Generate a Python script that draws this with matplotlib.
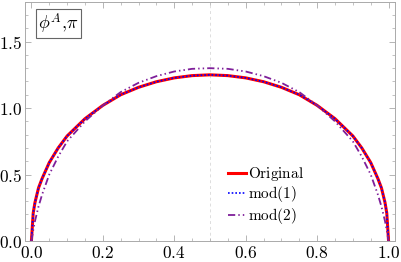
import matplotlib
matplotlib.use("Agg")
import matplotlib.pyplot as plt
from matplotlib.ticker import MultipleLocator

plt.rcParams['mathtext.fontset'] = 'cm'

# Momentum fraction grid and curve values
x = [0.0, 0.005, 0.01, 0.02, 0.03, 0.05, 0.075, 0.1, 0.15, 0.2, 0.25, 0.3,
     0.35, 0.4, 0.45, 0.5, 0.55, 0.6, 0.65, 0.7, 0.75, 0.8, 0.85, 0.9,
     0.925, 0.95, 0.97, 0.98, 0.99, 0.995, 1.0]
original = [0.0, 0.21, 0.29, 0.40, 0.47, 0.59, 0.70, 0.79, 0.92, 1.02, 1.10, 1.156,
            1.198, 1.227, 1.244, 1.25, 1.244, 1.227, 1.198, 1.156, 1.10, 1.02, 0.92, 0.79,
            0.70, 0.59, 0.47, 0.40, 0.29, 0.21, 0.0]
mod1 = [0.0, 0.21, 0.29, 0.40, 0.47, 0.59, 0.70, 0.79, 0.92, 1.02, 1.10, 1.156,
        1.198, 1.227, 1.244, 1.25, 1.244, 1.227, 1.198, 1.156, 1.10, 1.02, 0.92, 0.79,
        0.70, 0.59, 0.47, 0.40, 0.29, 0.21, 0.0]
mod2 = [0.0, 0.08, 0.15, 0.26, 0.35, 0.50, 0.635, 0.75, 0.90, 1.02, 1.12, 1.19,
        1.24, 1.275, 1.295, 1.30, 1.295, 1.275, 1.24, 1.19, 1.12, 1.02, 0.90, 0.75,
        0.635, 0.50, 0.35, 0.26, 0.15, 0.08, 0.0]

xticks = [0.0, 0.2, 0.4, 0.6, 0.8, 1.0]
yticks = [0.0, 0.5, 1.0, 1.5]

fig = plt.figure(figsize=(4.01, 2.62), dpi=100)
ax = fig.add_axes([0.0623, 0.0802, 0.9227, 0.9133])

ax.axvline(0.5, color='#dddddd', lw=0.7, ls=(0, (3, 3)), zorder=0)

ax.plot(x, original, color='red', lw=2.2, label=r'$\mathrm{Original}$', zorder=2)
ax.plot(x, mod1, color='blue', lw=1.2, ls=(0, (1, 1.2)), label=r'$\mathrm{mod(1)}$', zorder=3)
ax.plot(x, mod2, color='#7f1f9a', lw=1.3, ls=(0, (4, 1.7, 0.8, 1.7, 0.8, 1.7)),
        label=r'$\mathrm{mod(2)}$', zorder=3)

ax.set_xlim(-0.018, 1.018)
ax.set_ylim(0, 1.8)
ax.set_xticks(xticks)
ax.set_xticklabels([f'${v:.1f}$' for v in xticks])
ax.set_yticks(yticks)
ax.set_yticklabels([f'${v:.1f}$' for v in yticks])
ax.xaxis.set_minor_locator(MultipleLocator(0.05))
ax.yaxis.set_minor_locator(MultipleLocator(0.1))
ax.tick_params(which='both', direction='in', top=True, right=True, color='#aaaaaa',
               labelsize=12.5)
ax.tick_params(which='major', length=4, width=0.6)
ax.tick_params(which='minor', length=2, width=0.5)
ax.tick_params(axis='x', pad=2)
ax.tick_params(axis='y', pad=2)
for s in ax.spines.values():
    s.set_color('#aaaaaa')
    s.set_linewidth(0.7)

ax.text(0.019, 1.635, r'$\phi^A{,}\pi$', fontsize=13, va='center', ha='left',
        bbox=dict(boxstyle='square,pad=0.12', fc='white', ec='#666666', lw=0.8))

ax.legend(loc='upper left', bbox_to_anchor=(0.55, 0.318), frameon=False, fontsize=11,
          handlelength=1.15, handletextpad=0.1, labelspacing=0.1, borderpad=0,
          borderaxespad=0)

fig.savefig('out.png', dpi=100)
